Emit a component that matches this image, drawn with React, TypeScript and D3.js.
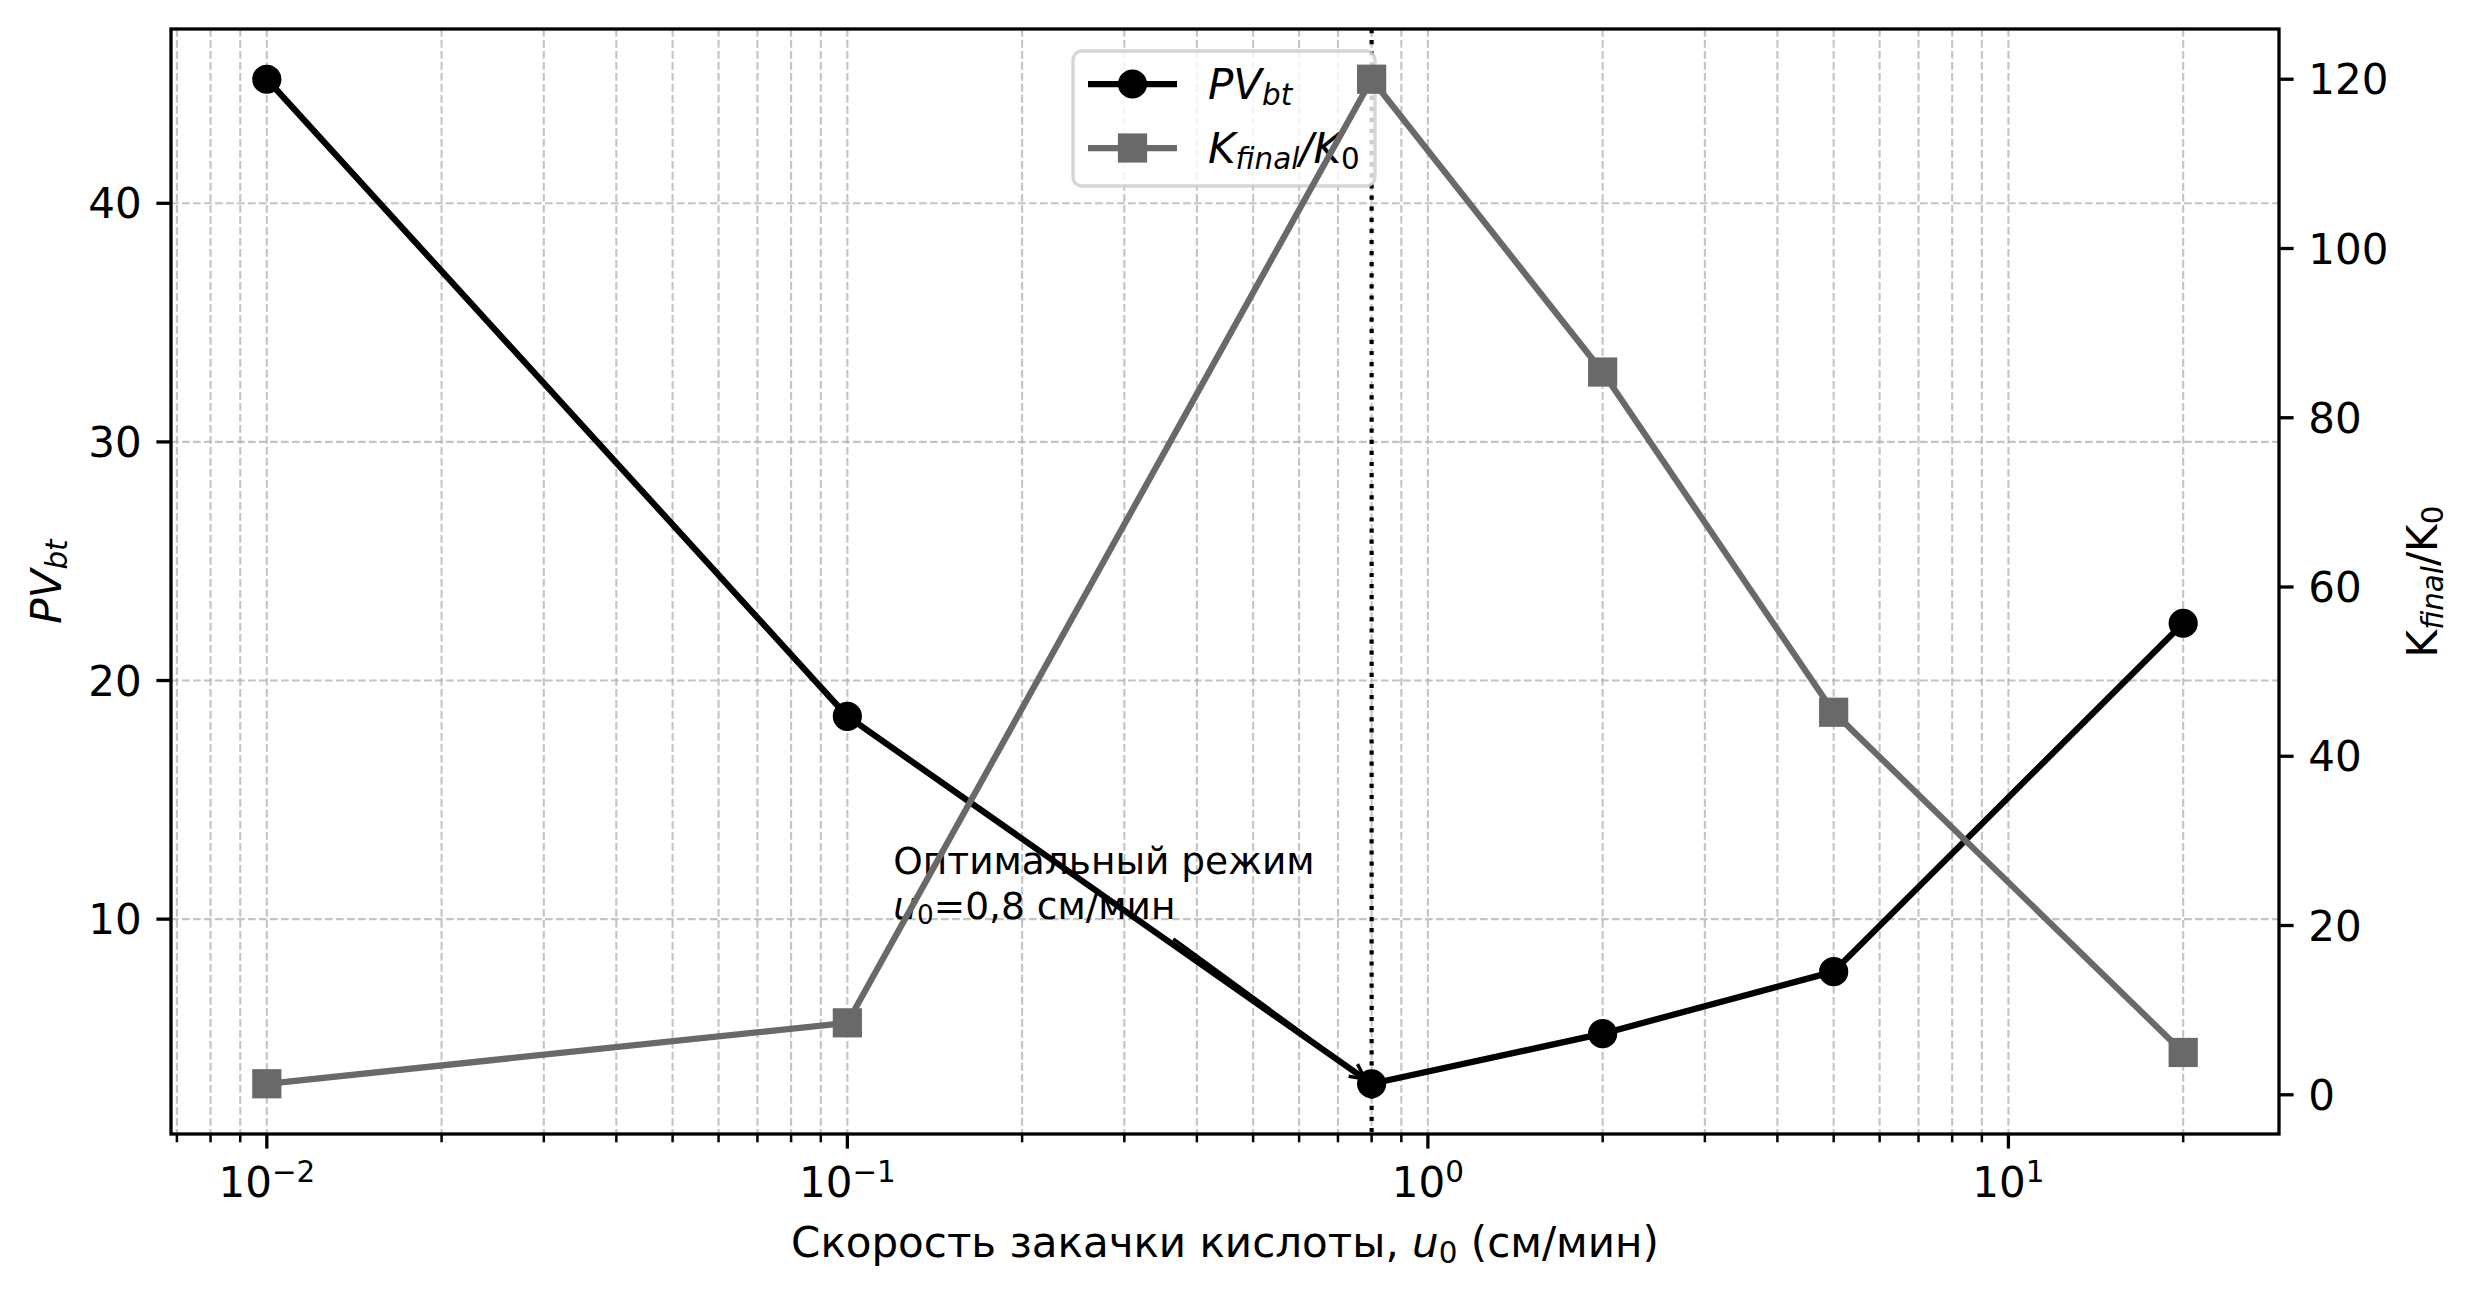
import React from 'react';
import * as d3 from 'd3';

// --- data ---
const injectionRates = [0.01, 0.1, 0.8, 2, 5, 20];
const pvBt = [45.2, 18.5, 3.1, 5.2, 7.8, 22.4];
const permRatio = [1.3, 8.5, 120, 85.4, 45.2, 5.0];

const leftTicks = [10, 20, 30, 40];
const rightTicks = [0, 20, 40, 60, 80, 100, 120];
const xMajorTicks = [0.01, 0.1, 1, 10];
const xTickExponents = ['−2', '−1', '0', '1'];

const optimumRate = 0.8;
const optimumPv = 3.1;
const noteAnchor = [0.12, 10];
const noteLine1 = 'Оптимальный режим';
const noteLine2 = '=0,8 см/мин';

const W = 2476;
const H = 1298;
const plot = { left: 171, top: 29, right: 2279, bottom: 1134 };
const FONT = '"DejaVu Sans", sans-serif';
const FS = 42; // 10pt @ 300dpi
const NOTE_FS = 37.5; // 9pt
const GRAY = '#696969';

// matplotlib-style 5% margins
const pad = (lo: number, hi: number) => {
  const r = hi - lo;
  return [lo - 0.05 * r, hi + 0.05 * r];
};

const [lx0, lx1] = pad(Math.log10(d3.min(injectionRates)!), Math.log10(d3.max(injectionRates)!));
const x = d3.scaleLog().domain([10 ** lx0, 10 ** lx1]).range([plot.left, plot.right]);
const yL = d3.scaleLinear().domain(pad(d3.min(pvBt)!, d3.max(pvBt)!)).range([plot.bottom, plot.top]);
const yR = d3.scaleLinear().domain(pad(d3.min(permRatio)!, d3.max(permRatio)!)).range([plot.bottom, plot.top]);

const minorTicks: number[] = [];
for (let e = -3; e <= 2; e++) {
  for (let k = 2; k <= 9; k++) {
    const v = k * 10 ** e;
    if (v >= x.domain()[0] && v <= x.domain()[1]) minorTicks.push(v);
  }
}

const pvLine = d3.line<number>().x((_, i) => x(injectionRates[i])).y(d => yL(d));
const kLine = d3.line<number>().x((_, i) => x(injectionRates[i])).y(d => yR(d));

// annotation arrow: from text bbox edge toward the optimum point (shrink 2pt both ends)
const tx = x(noteAnchor[0]);
const base2 = yL(noteAnchor[1]);
const base1 = base2 - 1.2 * NOTE_FS;
const boxW = 11.1 * NOTE_FS;
const boxTop = base1 - 0.95 * NOTE_FS;
const boxBottom = base2 + 0.4 * NOTE_FS;
const cx = tx + boxW / 2;
const cy = (boxTop + boxBottom) / 2;
const px = x(optimumRate);
const py = yL(optimumPv);
const dist = Math.hypot(px - cx, py - cy);
const ux = (px - cx) / dist;
const uy = (py - cy) / dist;
const tEdge = Math.min((boxBottom - cy) / uy, (tx + boxW - cx) / ux);
const ax0 = cx + ux * (tEdge + 8);
const ay0 = cy + uy * (tEdge + 8);
const ax1 = px - ux * 8;
const ay1 = py - uy * 8;
const hl = 0.4 * NOTE_FS;
const hw = 0.2 * NOTE_FS;
const headPath = `M${ax1 - ux * hl - uy * hw},${ay1 - uy * hl + ux * hw}L${ax1},${ay1}L${ax1 - ux * hl + uy * hw},${ay1 - uy * hl - ux * hw}`;

// legend layout
const legend = { x: 1073, y: 51, w: 302, h: 135, rowY: [84, 148], handleX0: 1088, handleX1: 1177, textX: 1208 };

const Circle = ({ cx, cy, fill }: { cx: number; cy: number; fill: string }) => (
  <circle cx={cx} cy={cy} r={12.5} fill={fill} stroke={fill} strokeWidth={4.2} />
);
const Square = ({ cx, cy, fill }: { cx: number; cy: number; fill: string }) => (
  <rect x={cx - 12.5} y={cy - 12.5} width={25} height={25} fill={fill} stroke={fill} strokeWidth={4.2} />
);

export default function App() {
  return (
    <svg width={W} height={H} style={{ position: 'absolute', left: 0, top: 0, background: '#fff' }} fontFamily={FONT}>
      <defs>
        <clipPath id="plotClip">
          <rect x={plot.left} y={plot.top} width={plot.right - plot.left} height={plot.bottom - plot.top} />
        </clipPath>
      </defs>
      <rect width={W} height={H} fill="#fff" />

      {/* grid */}
      <g stroke="#b0b0b0" strokeOpacity={0.75} strokeWidth={2.1} strokeDasharray="7.7 3.3">
        {[...xMajorTicks, ...minorTicks].filter(v => v >= x.domain()[0] && v <= x.domain()[1]).map((v, i) => (
          <line key={`gx${i}`} x1={x(v)} x2={x(v)} y1={plot.top} y2={plot.bottom} />
        ))}
        {leftTicks.map(v => (
          <line key={`gy${v}`} x1={plot.left} x2={plot.right} y1={yL(v)} y2={yL(v)} />
        ))}
      </g>

      {/* PV_bt series */}
      <g clipPath="url(#plotClip)">
        <path d={pvLine(pvBt)!} fill="none" stroke="#000" strokeWidth={6.25} strokeLinejoin="round" />
      </g>
      {pvBt.map((v, i) => (
        <Circle key={`pv${i}`} cx={x(injectionRates[i])} cy={yL(v)} fill="#000" />
      ))}

      {/* optimum line */}
      <line x1={x(optimumRate)} x2={x(optimumRate)} y1={plot.top} y2={plot.bottom} stroke="#000" strokeWidth={4.2} strokeDasharray="4.2 6.9" />

      {/* annotation */}
      <text x={tx} y={base1} fontSize={NOTE_FS}>{noteLine1}</text>
      <text x={tx} y={base2} fontSize={NOTE_FS}>
        <tspan fontStyle="italic">u</tspan>
        <tspan fontSize={NOTE_FS * 0.7} dy={5}>0</tspan>
        <tspan dy={-5}>{noteLine2}</tspan>
      </text>
      <line x1={ax0} y1={ay0} x2={ax1} y2={ay1} stroke="#000" strokeWidth={3.4} />
      <path d={headPath} fill="none" stroke="#000" strokeWidth={3.4} />

      {/* legend */}
      <rect x={legend.x} y={legend.y} width={legend.w} height={legend.h} rx={9} fill="#fff" fillOpacity={0.8} stroke="#cccccc" strokeOpacity={0.8} strokeWidth={3.3} />
      <line x1={legend.handleX0} x2={legend.handleX1} y1={legend.rowY[0]} y2={legend.rowY[0]} stroke="#000" strokeWidth={6.25} />
      <Circle cx={(legend.handleX0 + legend.handleX1) / 2} cy={legend.rowY[0]} fill="#000" />
      <line x1={legend.handleX0} x2={legend.handleX1} y1={legend.rowY[1]} y2={legend.rowY[1]} stroke={GRAY} strokeWidth={6.25} />
      <Square cx={(legend.handleX0 + legend.handleX1) / 2} cy={legend.rowY[1]} fill={GRAY} />
      <text x={legend.textX} y={legend.rowY[0] + 15} fontSize={FS} fontStyle="italic">
        PV<tspan fontSize={FS * 0.7} dy={6}>bt</tspan>
      </text>
      <text x={legend.textX} y={legend.rowY[1] + 15} fontSize={FS} fontStyle="italic">
        K<tspan fontSize={FS * 0.7} dy={6}>final</tspan>
        <tspan dy={-6}>/K</tspan>
        <tspan fontSize={FS * 0.7} fontStyle="normal" dy={6}>0</tspan>
      </text>

      {/* K_final/K_0 series (twin axis, drawn on top) */}
      <g clipPath="url(#plotClip)">
        <path d={kLine(permRatio)!} fill="none" stroke={GRAY} strokeWidth={6.25} strokeLinejoin="round" />
      </g>
      {permRatio.map((v, i) => (
        <Square key={`k${i}`} cx={x(injectionRates[i])} cy={yR(v)} fill={GRAY} />
      ))}

      {/* spines */}
      <rect x={plot.left} y={plot.top} width={plot.right - plot.left} height={plot.bottom - plot.top} fill="none" stroke="#000" strokeWidth={3.3} />

      {/* ticks */}
      <g stroke="#000">
        {xMajorTicks.map(v => (
          <line key={`xt${v}`} x1={x(v)} x2={x(v)} y1={plot.bottom} y2={plot.bottom + 14.6} strokeWidth={3.3} />
        ))}
        {minorTicks.map(v => (
          <line key={`xm${v}`} x1={x(v)} x2={x(v)} y1={plot.bottom} y2={plot.bottom + 8.3} strokeWidth={2.5} />
        ))}
        {leftTicks.map(v => (
          <line key={`lt${v}`} x1={plot.left - 14.6} x2={plot.left} y1={yL(v)} y2={yL(v)} strokeWidth={3.3} />
        ))}
        {rightTicks.map(v => (
          <line key={`rt${v}`} x1={plot.right} x2={plot.right + 14.6} y1={yR(v)} y2={yR(v)} strokeWidth={3.3} />
        ))}
      </g>
      {xMajorTicks.map((v, i) => (
        <text key={`xl${v}`} x={x(v)} y={plot.bottom + 63} fontSize={FS} textAnchor="middle">
          10<tspan fontSize={FS * 0.7} dy={-15}>{xTickExponents[i]}</tspan>
        </text>
      ))}
      {leftTicks.map(v => (
        <text key={`ll${v}`} x={plot.left - 29.2} y={yL(v)} dy="0.36em" fontSize={FS} textAnchor="end">{v}</text>
      ))}
      {rightTicks.map(v => (
        <text key={`rl${v}`} x={plot.right + 29.2} y={yR(v)} dy="0.36em" fontSize={FS}>{v}</text>
      ))}

      {/* axis labels */}
      <text x={(plot.left + plot.right) / 2} y={1257} fontSize={FS} textAnchor="middle">
        Скорость закачки кислоты, <tspan fontStyle="italic">u</tspan>
        <tspan fontSize={FS * 0.7} dy={6}>0</tspan>
        <tspan dy={-6}> (см/мин)</tspan>
      </text>
      <text transform={`translate(61,${(plot.top + plot.bottom) / 2}) rotate(-90)`} fontSize={FS} textAnchor="middle" fontStyle="italic">
        PV<tspan fontSize={FS * 0.7} dy={6}>bt</tspan>
      </text>
      <text transform={`translate(2437,${(plot.top + plot.bottom) / 2}) rotate(-90)`} fontSize={FS} textAnchor="middle">
        K<tspan fontSize={FS * 0.7} fontStyle="italic" dy={6}>final</tspan>
        <tspan dy={-6}>/K</tspan>
        <tspan fontSize={FS * 0.7} dy={6}>0</tspan>
      </text>
    </svg>
  );
}
